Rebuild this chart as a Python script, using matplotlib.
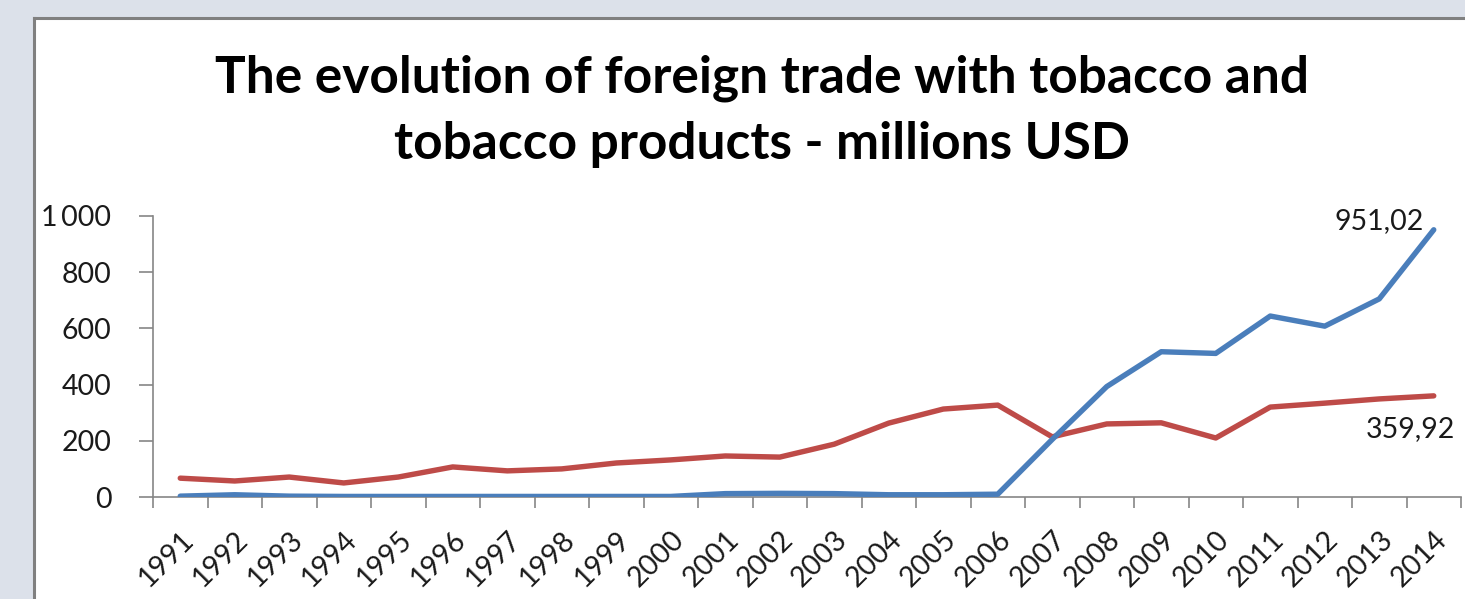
import matplotlib
matplotlib.use("Agg")
import matplotlib.pyplot as plt
from matplotlib.lines import Line2D
from matplotlib.patches import Rectangle
from matplotlib.ticker import FixedLocator, FuncFormatter

years = [str(y) for y in range(1991, 2015)]
series_blue = [3, 8, 3, 2, 2, 2, 2, 2, 2, 2, 12, 13, 12, 8, 8, 10,
               205, 393, 517, 511, 644, 608, 705, 951.02]
series_red = [67, 57, 71, 50, 71, 107, 93, 100, 121, 132, 146, 142, 188, 263,
              313, 327, 214, 260, 264, 210, 320, 334, 349, 359.92]
y_ticks = [0, 200, 400, 600, 800, 1000]
title = "The evolution of foreign trade with tobacco and\ntobacco products - millions USD"

W, H = 1465, 599
plt.rcParams['font.family'] = ['Lato', 'DejaVu Sans']
fig = plt.figure(figsize=(W / 100, H / 100), dpi=100)
fig.patch.set_facecolor('#dce1ea')

# chart area (white with border)
fig.patches.append(Rectangle((34 / W, -0.05), 1.1, (H - 18) / H + 0.05,
                             transform=fig.transFigure, facecolor='white',
                             edgecolor='none', zorder=-5))
fig.lines.append(Line2D([34 / W, 34 / W], [0, (H - 18) / H], transform=fig.transFigure,
                        color='#808080', lw=2.2, zorder=-4))
fig.lines.append(Line2D([34 / W, 1.0], [(H - 18) / H, (H - 18) / H], transform=fig.transFigure,
                        color='#808080', lw=2.2, zorder=-4))

ax = fig.add_axes([153 / W, 102 / H, (1461 - 153) / W, (383 - 102) / H])
ax.set_zorder(2)
ax.set_facecolor('none')
x = list(range(len(years)))
ax.plot(x, series_red, color='#be4b48', lw=3.9, solid_capstyle='round', solid_joinstyle='round', zorder=3)
ax.plot(x, series_blue, color='#4a7ebb', lw=3.9, solid_capstyle='round', solid_joinstyle='round', zorder=4)

ax.set_xlim(-0.5, len(years) - 0.5)
ax.set_ylim(0, 1000)
for s in ['top', 'right']:
    ax.spines[s].set_visible(False)
for s in ['left', 'bottom']:
    ax.spines[s].set_color('#868686')
    ax.spines[s].set_linewidth(1.2)

ax.set_yticks(y_ticks)
ax.yaxis.set_major_formatter(FuncFormatter(lambda v, p: f"{int(v):,}".replace(',', '\u2009')))
ax.tick_params(axis='y', direction='out', length=10, width=1.2, color='#868686',
               labelsize=20.5, labelcolor='#1a1a1a', pad=20)

ax.set_xticks(x)
ax.set_xticklabels(years, rotation=45, ha='right', rotation_mode='anchor')
ax.xaxis.set_minor_locator(FixedLocator([i - 0.5 for i in range(len(years) + 1)]))
ax.tick_params(axis='x', which='major', length=0, labelsize=20.5, labelcolor='#1a1a1a', pad=21)
ax.tick_params(axis='x', which='minor', direction='out', length=8, width=1.2, color='#868686')

ax.annotate(f"{series_blue[-1]:.2f}".replace('.', ','), (x[-1], series_blue[-1]),
            xytext=(-39, 6.5), textcoords='offset points', ha='center', va='center',
            fontsize=20.5, color='#1a1a1a', annotation_clip=False)
ax.annotate(f"{series_red[-1]:.2f}".replace('.', ','), (x[-1], series_red[-1]),
            xytext=(-17, -24), textcoords='offset points', ha='center', va='center',
            fontsize=20.5, color='#1a1a1a', annotation_clip=False)

fig.text(762 / W, 1 - 111 / H, title, ha='center', va='center', fontsize=37,
         fontweight='bold', color='black', linespacing=1.5)

fig.savefig('out.png', dpi=100, facecolor=fig.get_facecolor())
